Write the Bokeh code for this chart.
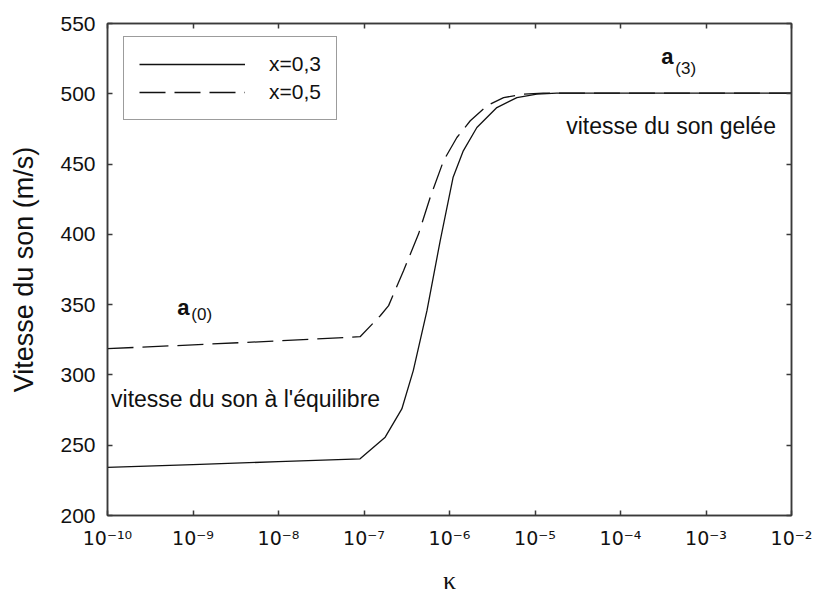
from bokeh.plotting import figure
from bokeh.models import LogAxis, LinearAxis, FixedTicker, Label, Legend, LegendItem
from bokeh.embed import file_html
from bokeh.resources import INLINE

# ---- data ----
kappa_x03 = [1.0e-10, 1.0e-9, 1.0e-8, 9.0e-8, 1.77e-7, 2.77e-7, 3.77e-7, 5.45e-7, 7.78e-7,
             1.10e-6, 1.45e-6, 2.09e-6, 3.58e-6, 6.14e-6, 1.05e-5, 1.80e-5, 1.0e-4, 1.0e-3, 1.0e-2]
speed_x03 = [234.3, 236.2, 238.3, 240.3, 255.7, 275.8, 303.1, 345.7, 395.4,
             440.4, 459.4, 476.0, 490.2, 497.3, 499.7, 500.4, 500.4, 500.4, 500.4]

kappa_x05 = [1.0e-10, 1.0e-9, 1.0e-8, 9.0e-8, 1.55e-7, 1.94e-7, 2.90e-7, 4.34e-7, 5.94e-7,
             8.51e-7, 1.22e-6, 1.75e-6, 2.74e-6, 4.29e-6, 7.33e-6, 1.25e-5, 1.0e-4, 1.0e-3, 1.0e-2]
speed_x05 = [318.7, 321.4, 324.2, 327.2, 342.1, 349.3, 374.1, 400.2, 426.2,
             452.3, 468.9, 480.8, 491.5, 497.3, 499.7, 500.4, 500.4, 500.4, 500.4]

series_names = ["x=0,3", "x=0,5"]
x_ticks = [1e-10, 1e-9, 1e-8, 1e-7, 1e-6, 1e-5, 1e-4, 1e-3, 1e-2]
x_tick_labels = ["10⁻¹⁰", "10⁻⁹", "10⁻⁸", "10⁻⁷", "10⁻⁶", "10⁻⁵", "10⁻⁴", "10⁻³", "10⁻²"]
y_ticks = [200, 250, 300, 350, 400, 450, 500, 550]

FONT = "Liberation Sans"
INK = "#111111"
AX = "#3a3a3a"

p = figure(width=813, height=598, x_axis_type="log", x_range=(1e-10, 1e-2), y_range=(200, 550),
           output_backend="svg", toolbar_location=None,
           min_border_left=107, min_border_right=22, min_border_top=23, min_border_bottom=83)
p.grid.visible = False
p.outline_line_color = AX
p.outline_line_width = 1.5
p.background_fill_color = "white"
p.border_fill_color = "white"

r1 = p.line(kappa_x03, speed_x03, line_color=INK, line_width=1.3)
r2 = p.line(kappa_x05, speed_x05, line_color=INK, line_width=1.3, line_dash="26 9")

def style_plain(ax):
    ax.major_tick_in = 5
    ax.major_tick_out = 0
    ax.minor_tick_in = 0
    ax.minor_tick_out = 0
    ax.axis_line_color = AX
    ax.axis_line_width = 1.5
    ax.major_tick_line_color = AX
    ax.major_tick_line_width = 1.5

def hide_labels(ax, ticks):
    ax.major_label_overrides = {t: "" for t in ticks}
    ax.major_label_text_font_size = "2px"
    ax.major_label_standoff = 0

# x axis (bottom)
xa = p.xaxis[0]
xa.ticker = FixedTicker(ticks=x_ticks, minor_ticks=[])
style_plain(xa)
xa.major_label_overrides = dict(zip(x_ticks, x_tick_labels))
xa.major_label_text_font = "DejaVu Sans"
xa.major_label_text_font_size = "19px"
xa.major_label_text_color = INK
xa.major_label_standoff = 11
xa.axis_label = "κ"
xa.axis_label_text_font = "Liberation Serif"
xa.axis_label_text_font_size = "26px"
xa.axis_label_text_font_style = "normal"
xa.axis_label_text_color = INK
xa.axis_label_standoff = 14

# y axis (left)
ya = p.yaxis[0]
ya.ticker = FixedTicker(ticks=y_ticks, minor_ticks=[])
style_plain(ya)
ya.major_label_text_font = FONT
ya.major_label_text_font_size = "21px"
ya.major_label_text_color = INK
ya.major_label_standoff = 12
ya.axis_label = "Vitesse du son (m/s)"
ya.axis_label_text_font = FONT
ya.axis_label_text_font_size = "27px"
ya.axis_label_text_font_style = "normal"
ya.axis_label_text_color = INK
ya.axis_label_standoff = 18

# mirrored ticks (top / right)
top = LogAxis(ticker=FixedTicker(ticks=x_ticks, minor_ticks=[]))
style_plain(top)
hide_labels(top, x_ticks)
p.add_layout(top, "above")
right = LinearAxis(ticker=FixedTicker(ticks=y_ticks, minor_ticks=[]))
style_plain(right)
hide_labels(right, y_ticks)
p.add_layout(right, "right")

# annotations
def ann(x, y, text, size, bold=False, align="left", baseline="alphabetic"):
    p.add_layout(Label(x=x, y=y, text=text, text_align=align, text_baseline=baseline,
                       text_font=FONT, text_font_size=f"{size}px",
                       text_font_style="bold" if bold else "normal", text_color=INK))

ann(6.53e-10, 347.8, "a", 22, bold=True)
ann(9.57e-10, 342.8, "(0)", 17)
ann(2.99e-4, 526.2, "a", 22, bold=True)
ann(4.38e-4, 518.3, "(3)", 17)
ann(2.32e-5, 477.2, "vitesse du son gelée", 23, baseline="middle")
ann(1.10e-10, 283.0, "vitesse du son à l'équilibre", 23, baseline="middle")

legend = Legend(items=[LegendItem(label=series_names[0], renderers=[r1]),
                       LegendItem(label=series_names[1], renderers=[r2])],
                location=(16, 395))
legend.border_line_color = AX
legend.border_line_width = 1.5
legend.padding = 15
legend.spacing = 4
legend.margin = 0
legend.glyph_width = 106
legend.glyph_height = 24
legend.label_height = 24
legend.label_standoff = 24
legend.label_text_font = FONT
legend.label_text_font_size = "21px"
legend.label_text_color = INK
legend.background_fill_alpha = 1.0
p.add_layout(legend, "center")

open("out.html", "w").write(file_html(p, INLINE))
